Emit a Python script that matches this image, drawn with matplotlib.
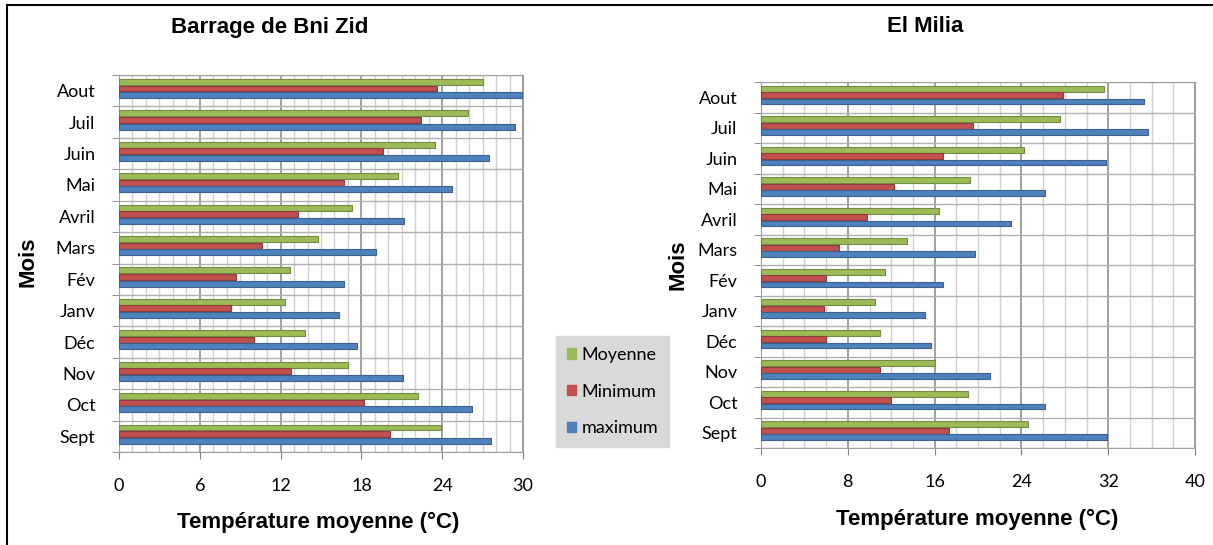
import matplotlib.pyplot as plt
import numpy as np
from matplotlib.lines import Line2D
from matplotlib.patches import Patch

mois = ['Sept', 'Oct', 'Nov', 'Déc', 'Janv', 'Fév', 'Mars', 'Avril', 'Mai', 'Juin', 'Juil', 'Aout']

# Barrage de Bni Zid
bz_moy = [23.9, 22.2, 17.0, 13.8, 12.3, 12.7, 14.8, 17.3, 20.7, 23.5, 25.9, 27.0]
bz_min = [20.1, 18.2, 12.8, 10.0, 8.3, 8.7, 10.6, 13.3, 16.7, 19.6, 22.4, 23.6]
bz_max = [27.6, 26.2, 21.1, 17.7, 16.3, 16.7, 19.1, 21.2, 24.7, 27.5, 29.4, 29.9]

# El Milia
em_moy = [24.6, 19.1, 16.0, 11.0, 10.5, 11.4, 13.5, 16.4, 19.3, 24.2, 27.6, 31.6]
em_min = [17.3, 12.0, 11.0, 6.0, 5.8, 6.0, 7.2, 9.8, 12.3, 16.8, 19.5, 27.8]
em_max = [31.9, 26.2, 21.1, 15.7, 15.1, 16.8, 19.7, 23.0, 26.2, 31.8, 35.7, 35.3]

c_moy = '#9bbb59'
c_min = '#c0504d'
c_max = '#4f81bd'
fonte = ['Lato', 'DejaVu Sans']
gras = dict(fontsize=16, fontweight='bold', family='Liberation Sans')

W, H = 1213, 545
fig = plt.figure(figsize=(W / 100, H / 100), dpi=100)


def px(x0, x1, ytop, ybot):
    return [x0 / W, 1 - ybot / H, (x1 - x0) / W, (ybot - ytop) / H]


def graphe(rect, moy, mini, maxi, xmax, pas, pas_min):
    ax = fig.add_axes(rect)
    y = np.arange(len(mois))
    d = 0.21
    h = 0.19
    for vals, off, col in [(moy, d, c_moy), (mini, 0, c_min), (maxi, -d, c_max)]:
        bord = np.array(plt.matplotlib.colors.to_rgba(col)) * [0.75, 0.75, 0.75, 1]
        ax.barh(y + off + 0.07, vals, height=h, color=col, edgecolor=bord,
                linewidth=0.8, zorder=3)
    ax.set_xlim(0, xmax)
    ax.set_ylim(-0.5, len(mois) - 0.5)
    ax.set_xticks(np.arange(0, xmax + 1, pas))
    ax.set_xticks(np.arange(0, xmax + 1, pas_min), minor=True)
    ax.set_yticks(y)
    ax.set_yticklabels(mois, family=fonte, fontsize=13)
    ax.set_yticks(np.arange(-0.5, len(mois), 1), minor=True)
    ax.tick_params(axis='y', which='major', length=0, pad=17)
    ax.tick_params(axis='y', which='minor', length=5, color='#808080')
    ax.tick_params(axis='x', which='major', length=5, color='#808080', pad=14)
    ax.tick_params(axis='x', which='minor', length=0)
    for t in ax.get_xticklabels():
        t.set_family(fonte)
        t.set_fontsize(13)
    ax.grid(axis='x', which='minor', color='#d0d0d0', lw=1, zorder=0)
    ax.grid(axis='x', which='major', color='#a0a0a0', lw=1.4, zorder=1)
    ax.grid(axis='y', which='minor', color='#b0b0b0', lw=1, zorder=0)
    for s in ax.spines.values():
        s.set_color('#a0a0a0')
    return ax


graphe(px(119, 523, 75, 452), bz_moy, bz_min, bz_max, 30, 6, 1)
graphe(px(761, 1195, 82, 448), em_moy, em_min, em_max, 40, 8, 2)

# titres et libellés d'axes
fig.text(270 / W, 1 - 27 / H, 'Barrage de Bni Zid', ha='center', va='center', **gras)
fig.text(925 / W, 1 - 27 / H, 'El Milia', ha='center', va='center', **gras)
fig.text(318 / W, 1 - 522 / H, 'Température moyenne (°C)', ha='center', va='center', **gras)
fig.text(977 / W, 1 - 519 / H, 'Température moyenne (°C)', ha='center', va='center', **gras)
fig.text(28 / W, 1 - 262 / H, 'Mois', ha='center', va='center', rotation=90, **gras)
fig.text(678 / W, 1 - 265 / H, 'Mois', ha='center', va='center', rotation=90, **gras)

poignees = [Patch(color=c_moy), Patch(color=c_min), Patch(color=c_max)]
leg = fig.legend(poignees, ['Moyenne', 'Minimum', 'maximum'], loc='upper left',
                 bbox_to_anchor=(556 / W, 1 - 336 / H), prop={'family': fonte, 'size': 13},
                 fancybox=False, facecolor='#d9d9d9', edgecolor='#d9d9d9', framealpha=1,
                 handlelength=0.5, handleheight=0.5, handletextpad=0.3, labelspacing=1.15,
                 borderpad=0.6, borderaxespad=0)

# cadre
fig.add_artist(Line2D([7 / W, 1], [1 - 5 / H, 1 - 5 / H], color='black', lw=1.5))
fig.add_artist(Line2D([7 / W, 7 / W], [0, 1 - 5 / H], color='black', lw=1.5))

fig.savefig('out.png', dpi=100)
